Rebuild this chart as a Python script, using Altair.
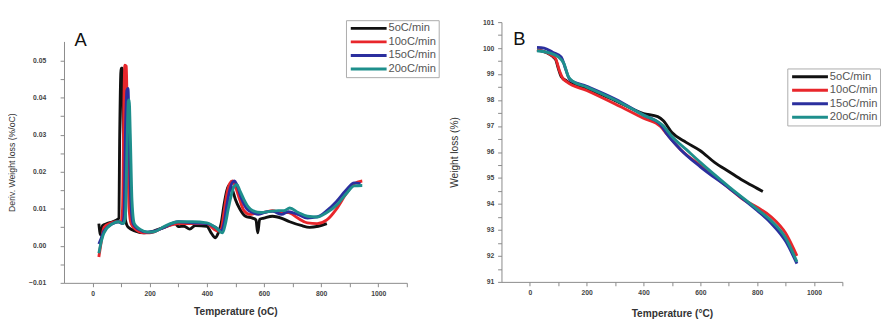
import altair as alt
import pandas as pd

series = ["5oC/min", "10oC/min", "15oC/min", "20oC/min"]
colors = ["#111111", "#e8262b", "#2b2f9e", "#1e8f8c"]

# Panel A: derivative weight loss (%/oC)
a_t_5 = [22, 28, 35, 50, 70, 85, 92, 95, 100, 104, 108, 115, 125, 150, 180, 200, 250, 290, 300, 320, 340, 360, 400, 415, 430, 440, 450, 460, 470, 480, 490, 500, 515, 535, 560, 572, 578, 585, 600, 630, 660, 690, 730, 760, 790, 820]
a_v_5 = [0.006, 0.003, 0.0055, 0.006, 0.0065, 0.007, 0.0075, 0.03, 0.048, 0.048, 0.03, 0.007, 0.005, 0.004, 0.0035, 0.0037, 0.005, 0.006, 0.0052, 0.0053, 0.0045, 0.0055, 0.0053, 0.0035, 0.0022, 0.0035, 0.006, 0.011, 0.015, 0.0165, 0.015, 0.0125, 0.01, 0.008, 0.0075, 0.007, 0.0035, 0.0072, 0.0075, 0.008, 0.0075, 0.0065, 0.0055, 0.005, 0.0053, 0.006]
a_t_10 = [22, 30, 40, 60, 80, 100, 105, 110, 113, 118, 122, 128, 135, 150, 180, 200, 250, 300, 350, 400, 425, 440, 450, 460, 470, 480, 490, 500, 515, 530, 550, 570, 600, 630, 660, 685, 718, 752, 786, 820, 854, 887, 916, 944]
a_v_10 = [-0.003, 0.001, 0.005, 0.006, 0.0065, 0.0065, 0.01, 0.04, 0.0488, 0.0485, 0.03, 0.01, 0.006, 0.0045, 0.0035, 0.0035, 0.005, 0.006, 0.006, 0.006, 0.0045, 0.004, 0.0045, 0.009, 0.014, 0.0168, 0.0175, 0.016, 0.0125, 0.0095, 0.0085, 0.0088, 0.009, 0.0095, 0.009, 0.009, 0.0075, 0.0062, 0.006, 0.007, 0.01, 0.014, 0.0168, 0.0175]
a_t_15 = [22, 30, 40, 70, 90, 105, 110, 115, 120, 124, 128, 134, 142, 160, 190, 210, 250, 300, 350, 400, 430, 450, 460, 470, 480, 490, 497, 505, 520, 540, 560, 580, 600, 630, 662, 685, 718, 752, 786, 820, 854, 887, 916, 938]
a_v_15 = [0.0005, 0.002, 0.004, 0.006, 0.0065, 0.006, 0.008, 0.03, 0.042, 0.0425, 0.03, 0.012, 0.006, 0.0045, 0.0037, 0.0038, 0.005, 0.0065, 0.0062, 0.006, 0.005, 0.004, 0.006, 0.011, 0.015, 0.0172, 0.0175, 0.0165, 0.013, 0.010, 0.009, 0.0085, 0.009, 0.0093, 0.0085, 0.0092, 0.0085, 0.0075, 0.0078, 0.0095, 0.012, 0.015, 0.017, 0.0168]
a_t_20 = [22, 30, 40, 70, 90, 108, 115, 120, 125, 128, 132, 138, 146, 165, 195, 215, 250, 300, 350, 400, 430, 455, 465, 475, 485, 495, 505, 515, 530, 545, 560, 590, 620, 650, 670, 690, 720, 752, 786, 820, 854, 887, 916, 944]
a_v_20 = [-0.002, 0.001, 0.0035, 0.006, 0.0065, 0.006, 0.008, 0.025, 0.039, 0.0395, 0.03, 0.012, 0.006, 0.0045, 0.0037, 0.0038, 0.0052, 0.0065, 0.0065, 0.0062, 0.005, 0.0035, 0.006, 0.01, 0.0135, 0.016, 0.0165, 0.015, 0.0125, 0.0105, 0.0095, 0.009, 0.0093, 0.0095, 0.0095, 0.0102, 0.009, 0.008, 0.0078, 0.009, 0.011, 0.014, 0.0162, 0.0163]

# Panel B: weight loss (%)
b_t_5 = [25, 60, 90, 100, 110, 130, 200, 300, 400, 450, 470, 500, 550, 600, 650, 700, 750, 800, 820]
b_v_5 = [99.93, 99.82, 99.57, 99.22, 98.91, 98.73, 98.45, 97.98, 97.48, 97.36, 97.2, 96.75, 96.37, 96.05, 95.6, 95.25, 94.9, 94.6, 94.48]
b_t_10 = [25, 60, 90, 105, 115, 130, 200, 300, 400, 460, 480, 530, 600, 700, 750, 800, 850, 900, 940]
b_v_10 = [99.93, 99.82, 99.6, 99.1, 98.85, 98.7, 98.37, 97.85, 97.3, 96.98, 96.72, 96.1, 95.48, 94.62, 94.18, 93.87, 93.5, 92.88, 92.0]
b_t_15 = [25, 50, 80, 110, 125, 140, 200, 300, 400, 460, 480, 530, 600, 700, 800, 850, 900, 940]
b_v_15 = [100.03, 100.0, 99.84, 99.66, 99.22, 98.8, 98.53, 98.04, 97.42, 97.05, 96.73, 96.1, 95.43, 94.62, 93.75, 93.25, 92.57, 91.7]
b_t_20 = [25, 60, 100, 120, 135, 150, 200, 300, 400, 470, 500, 550, 600, 700, 800, 850, 900, 940]
b_v_20 = [99.9, 99.84, 99.66, 99.4, 98.91, 98.73, 98.5, 98.0, 97.42, 97.0, 96.6, 96.1, 95.6, 94.67, 93.8, 93.35, 92.7, 91.77]

x_ticks = list(range(0, 1101, 100))
a_y_ticks = [round(-0.01 + 0.005 * i, 3) for i in range(13)]
b_y_ticks = [91 + 0.5 * i for i in range(21)]


def long(ts, vs):
    rows = []
    for k, (t, v) in enumerate(zip(ts, vs)):
        for ti, vi in zip(t, v):
            rows.append({"T": ti, "V": vi, "Rate": series[k], "ord": k})
    return pd.DataFrame(rows)


dfa = long([a_t_5, a_t_10, a_t_15, a_t_20], [a_v_5, a_v_10, a_v_15, a_v_20])
dfb = long([b_t_5, b_t_10, b_t_15, b_t_20], [b_v_5, b_v_10, b_v_15, b_v_20])

FONT = "Liberation Sans"

x_lab = "datum.value % 200 == 0 && datum.value <= 1000 ? datum.value : ''"


def legend(lx, ly):
    return alt.Legend(
        title=None, orient="none", legendX=lx, legendY=ly,
        symbolType="M-4,0L4,0", symbolSize=86, symbolStrokeWidth=3,
        labelFont=FONT, labelFontSize=11.5, labelColor="#555",
        rowPadding=1, symbolOffset=15, labelOffset=14,
        strokeColor="#aaa", padding=2, fillColor="white",
    )


def panel(df, ydom, yticks, ylabexpr, ytitle, xtitle, w, h, lx, ly,
          letter, lt, lv, lab_pad, title_x, ytitle_size, xtitle_pad):
    lines = alt.Chart(df).mark_line(strokeWidth=3, interpolate="monotone").encode(
        x=alt.X("T:Q", scale=alt.Scale(domain=[-100, 1100], nice=False, zero=False),
                axis=alt.Axis(values=x_ticks, tickCount=200, labelExpr=x_lab, title=xtitle,
                              titleFontWeight="bold", titleFontSize=10.5,
                              titlePadding=xtitle_pad, labelPadding=3,
                              labelOverlap=False)),
        y=alt.Y("V:Q", scale=alt.Scale(domain=ydom, nice=False, zero=False),
                axis=alt.Axis(values=yticks, tickCount=200, labelExpr=ylabexpr, title=ytitle,
                              titleFontWeight="normal", titleFontSize=ytitle_size,
                              labelPadding=lab_pad, titleX=title_x,
                              labelOverlap=False)),
        color=alt.Color("Rate:N", scale=alt.Scale(domain=series, range=colors),
                        sort=series, legend=legend(lx, ly)),
        order="ord:Q",
    )
    txt = alt.Chart(pd.DataFrame({"T": [lt], "V": [lv], "s": [letter]})).mark_text(
        fontSize=19, font=FONT, color="#111", clip=False, baseline="middle", align="center"
    ).encode(x="T:Q", y="V:Q", text="s:N")
    return alt.layer(lines, txt).properties(width=w, height=h)


pa = panel(dfa, [-0.01, 0.0552], a_y_ticks,
           "abs(datum.value*100 - round(datum.value*100)) < 0.01 ? format(datum.value, '.2f') : ''",
           "Deriv. Weight loss (%/oC)", "Temperature (oC)", 355, 250, 292, -2,
           "A", -42, 0.0556, 15, -49, 9, 11)
pb = panel(dfb, [91, 101], b_y_ticks,
           "datum.value % 1 == 0 ? datum.value : ''",
           "Weight loss (%)", "Temperature (\u00b0C)", 353, 269, 296, 48,
           "B", -37, 100.35, 4, -44, 10.5, 14)

spacer = alt.Chart(pd.DataFrame({"s": [0]})).mark_point(opacity=0, size=1).encode(
    x=alt.value(0), y=alt.value(0)
).properties(width=355, height=9)

left = alt.vconcat(spacer, pa, spacing=0)

chart = alt.hconcat(left, pb, spacing=10).resolve_scale(
    color="independent", x="independent", y="independent"
).resolve_legend(color="independent").configure_view(stroke=None).configure_axis(
    grid=False, domainColor="#888", tickColor="#888", tickSize=4,
    labelFont=FONT, labelFontSize=7, labelFontWeight="bold", labelColor="#444",
    titleFont=FONT, titleColor="#333",
).properties(padding={"left": 0, "top": 5, "right": 0, "bottom": 0})

chart.save("out.html", embed_options={"renderer": "svg", "actions": False})
